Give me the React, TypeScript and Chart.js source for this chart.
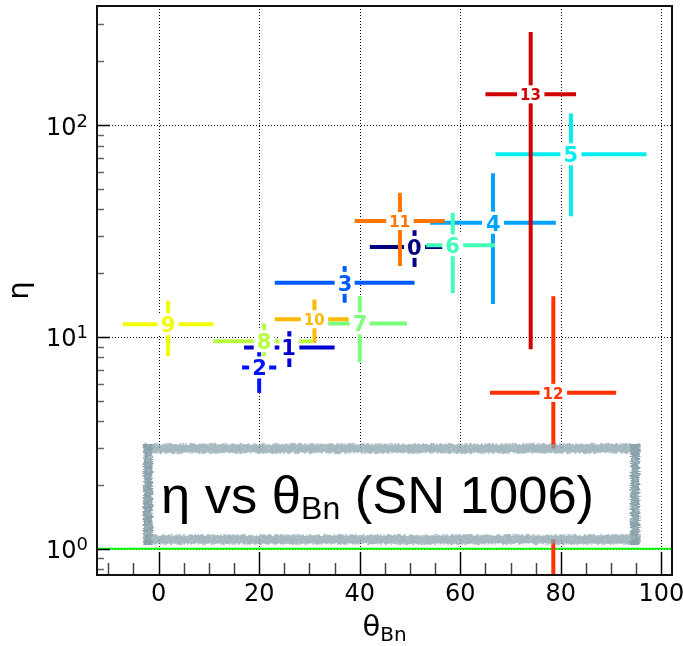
import React, { useEffect, useRef } from 'react';
import { Chart, registerables } from 'chart.js';

Chart.register(...registerables);

// Shock regions in SN 1006: obliquity angle θBn (deg) and η, with error extents
const REGION_IDS = ['0', '1', '2', '3', '4', '5', '6', '7', '8', '9', '10', '11', '12', '13'];
const THETA_BN = [50.9, 26.0, 20.0, 37.0, 66.5, 82.0, 58.5, 40.0, 21.0, 1.9, 31.0, 48.0, 78.5, 74.0];
const THETA_LO = [42.0, 17.0, 16.6, 23.1, 54.0, 67.0, 53.2, 33.1, 10.9, -7.1, 23.1, 39.0, 65.9, 65.0];
const THETA_HI = [60.0, 35.0, 23.4, 50.9, 79.0, 97.0, 66.9, 49.4, 30.5, 10.9, 37.8, 56.9, 91.0, 83.0];
const ETA = [26.6, 8.91, 7.17, 18.0, 34.6, 72.8, 27.1, 11.57, 9.54, 11.48, 12.1, 35.2, 5.44, 139.7];
const ETA_LO = [21.4, 7.21, 5.44, 14.5, 14.3, 37.1, 16.1, 7.59, 8.05, 8.1, 9.37, 21.6, -4.7, 8.75];
const ETA_HI = [31.9, 10.64, 8.56, 21.6, 59.2, 113.6, 38.5, 15.57, 11.57, 14.8, 15.0, 47.9, 15.57, 275];

// jet colormap sampled at i / 14
const REGION_COLORS = [
  'rgb(0,0,128)', 'rgb(0,0,210)', 'rgb(0,18,255)', 'rgb(0,91,255)', 'rgb(0,164,255)',
  'rgb(6,237,241)', 'rgb(65,255,182)', 'rgb(123,255,123)', 'rgb(182,255,65)', 'rgb(241,252,6)',
  'rgb(255,185,0)', 'rgb(255,117,0)', 'rgb(255,50,0)', 'rgb(210,0,0)',
];

const X_MIN = -12.25;
const X_MAX = 102.1;
const Y_MIN = 0.751;
const Y_MAX = 365;

const X_TICKS = [0, 20, 40, 60, 80, 100];
const X_MINOR_TICKS = [-10, -5, 5, 10, 15, 25, 30, 35, 45, 50, 55, 65, 70, 75, 85, 90, 95];
const Y_TICKS = [1, 10, 100];
const Y_TICK_BASE = '10';
const Y_TICK_EXPONENTS = ['0', '1', '2'];
const Y_MINOR_TICKS = [0.8, 0.9, 2, 3, 4, 5, 6, 7, 8, 9, 20, 30, 40, 50, 60, 70, 80, 90, 200, 300];

const ETA_REFERENCE = 1;

const TITLE_HEAD = 'η vs θ';
const TITLE_SUB = 'Bn';
const TITLE_TAIL = ' (SN 1006)';
const X_LABEL = 'θ';
const X_LABEL_SUB = 'Bn';
const Y_LABEL = 'η';

function grain(n: number): number {
  const s = Math.sin(n * 127.1 + 311.7) * 43758.5453;
  return s - Math.floor(s);
}

function drawRoughBox(ctx: CanvasRenderingContext2D, l: number, t: number, r: number, b: number, w: number) {
  ctx.save();
  ctx.fillStyle = '#ffffff';
  ctx.fillRect(l, t, r - l, b - t);
  const half = w / 2;
  ctx.fillStyle = '#8aa2ac';
  // top and bottom edges
  for (let x = l - half; x <= r + half; x += 1) {
    const k = Math.round(x * 3.1);
    const a1 = (grain(k) - 0.5) * 2.6;
    const a2 = (grain(k + 17.3) - 0.5) * 2.6;
    ctx.fillRect(x, t - half + a1, 1, w - a1 + a2);
    const b1 = (grain(k + 41.7) - 0.5) * 2.6;
    const b2 = (grain(k + 73.9) - 0.5) * 2.6;
    ctx.fillRect(x, b - half + b1, 1, w - b1 + b2);
  }
  // left and right edges
  for (let y = t - half; y <= b + half; y += 1) {
    const k = Math.round(y * 2.7) + 900;
    const a1 = (grain(k) - 0.5) * 2.6;
    const a2 = (grain(k + 11.1) - 0.5) * 2.6;
    ctx.fillRect(l - half + a1, y, w - a1 + a2, 1);
    const b1 = (grain(k + 29.5) - 0.5) * 2.6;
    const b2 = (grain(k + 53.3) - 0.5) * 2.6;
    ctx.fillRect(r - half + b1, y, w - b1 + b2, 1);
  }
  // light speckles in the stroke
  ctx.fillStyle = 'rgba(255,255,255,0.35)';
  for (let i = 0; i < 500; i++) {
    const side = i % 4;
    const u = grain(i * 1.37 + 5);
    const v = (grain(i * 2.11 + 9) - 0.5) * w;
    let px: number, py: number;
    if (side === 0) { px = l + u * (r - l); py = t + v; }
    else if (side === 1) { px = l + u * (r - l); py = b + v; }
    else if (side === 2) { px = l + v; py = t + u * (b - t); }
    else { px = r + v; py = t + u * (b - t); }
    ctx.fillRect(px, py, 1, 1);
  }
  ctx.restore();
}

const figurePlugin = {
  id: 'figureDecor',
  beforeDatasetsDraw(chart: any) {
    const { ctx, chartArea: a, scales } = chart;
    const xs = scales.x;
    const ys = scales.y;
    ctx.save();
    ctx.beginPath();
    ctx.rect(a.left, a.top, a.right - a.left, a.bottom - a.top);
    ctx.clip();

    // dotted grid at major ticks
    ctx.strokeStyle = '#000';
    ctx.lineWidth = 1;
    ctx.setLineDash([1, 2]);
    for (const v of X_TICKS) {
      const px = Math.round(xs.getPixelForValue(v)) + 0.5;
      ctx.beginPath();
      ctx.moveTo(px, a.top);
      ctx.lineTo(px, a.bottom);
      ctx.stroke();
    }
    for (const v of Y_TICKS) {
      const py = Math.round(ys.getPixelForValue(v)) + 0.5;
      ctx.beginPath();
      ctx.moveTo(a.left, py);
      ctx.lineTo(a.right, py);
      ctx.stroke();
    }
    ctx.setLineDash([]);

    // η = 1 reference
    const pyRef = ys.getPixelForValue(ETA_REFERENCE);
    ctx.strokeStyle = '#00ff00';
    ctx.lineWidth = 2;
    ctx.beginPath();
    ctx.moveTo(a.left, pyRef);
    ctx.lineTo(a.right, pyRef);
    ctx.stroke();

    // error crosses
    ctx.lineWidth = 4;
    ctx.lineCap = 'butt';
    for (let i = 0; i < REGION_IDS.length; i++) {
      ctx.strokeStyle = REGION_COLORS[i];
      const cx = xs.getPixelForValue(THETA_BN[i]);
      const cy = ys.getPixelForValue(ETA[i]);
      ctx.beginPath();
      ctx.moveTo(xs.getPixelForValue(THETA_LO[i]), cy);
      ctx.lineTo(xs.getPixelForValue(THETA_HI[i]), cy);
      ctx.stroke();
      const yLo = ETA_LO[i] > 0 ? ys.getPixelForValue(ETA_LO[i]) : a.bottom + 10;
      ctx.beginPath();
      ctx.moveTo(cx, yLo);
      ctx.lineTo(cx, ys.getPixelForValue(ETA_HI[i]));
      ctx.stroke();
    }

    // region numbers on white boxes
    for (let i = 0; i < REGION_IDS.length; i++) {
      const txt = REGION_IDS[i];
      const size = txt.length > 1 ? 15 : 21;
      ctx.font = `bold ${size}px "DejaVu Sans"`;
      const m = ctx.measureText(txt);
      const cx = xs.getPixelForValue(THETA_BN[i]);
      const cy = ys.getPixelForValue(ETA[i]);
      const inkW = m.actualBoundingBoxLeft + m.actualBoundingBoxRight;
      const inkH = m.actualBoundingBoxAscent + m.actualBoundingBoxDescent;
      const padX = 4;
      const padY = 3;
      ctx.fillStyle = '#ffffff';
      ctx.fillRect(cx - inkW / 2 - padX, cy - inkH / 2 - padY, inkW + 2 * padX, inkH + 2 * padY);
      ctx.fillStyle = REGION_COLORS[i];
      ctx.textAlign = 'left';
      ctx.textBaseline = 'alphabetic';
      ctx.fillText(txt, cx - inkW / 2 + m.actualBoundingBoxLeft, cy + inkH / 2 - m.actualBoundingBoxDescent);
    }
    ctx.restore();

    // title panel
    drawRoughBox(ctx, 148, 448.5, 635, 539.5, 9);
    ctx.save();
    ctx.fillStyle = '#000';
    ctx.textAlign = 'left';
    ctx.textBaseline = 'alphabetic';
    ctx.font = '52.5px "Liberation Sans"';
    let tx = 161;
    ctx.fillText(TITLE_HEAD, tx, 513);
    tx += ctx.measureText(TITLE_HEAD).width;
    ctx.font = '32px "Liberation Sans"';
    ctx.fillText(TITLE_SUB, tx, 519);
    tx += ctx.measureText(TITLE_SUB).width;
    ctx.font = '52.5px "Liberation Sans"';
    ctx.fillText(TITLE_TAIL, tx, 513);
    ctx.restore();
  },
  afterDraw(chart: any) {
    const { ctx, chartArea: a, scales } = chart;
    const xs = scales.x;
    const ys = scales.y;
    ctx.save();
    // inward tick marks
    ctx.lineWidth = 1.5;
    ctx.strokeStyle = '#000';
    for (const v of X_TICKS) {
      const px = Math.round(xs.getPixelForValue(v)) + 0.5;
      ctx.beginPath();
      ctx.moveTo(px, a.bottom);
      ctx.lineTo(px, a.bottom - 23);
      ctx.stroke();
    }
    ctx.strokeStyle = '#444';
    for (const v of X_MINOR_TICKS) {
      const px = Math.round(xs.getPixelForValue(v)) + 0.5;
      ctx.beginPath();
      ctx.moveTo(px, a.bottom);
      ctx.lineTo(px, a.bottom - 12);
      ctx.stroke();
    }
    ctx.strokeStyle = '#000';
    for (const v of Y_TICKS) {
      const py = Math.round(ys.getPixelForValue(v)) + 0.5;
      ctx.beginPath();
      ctx.moveTo(a.left, py);
      ctx.lineTo(a.left + 13, py);
      ctx.stroke();
    }
    ctx.strokeStyle = '#666';
    for (const v of Y_MINOR_TICKS) {
      const py = Math.round(ys.getPixelForValue(v)) + 0.5;
      if (py < a.top || py > a.bottom) continue;
      ctx.beginPath();
      ctx.moveTo(a.left, py);
      ctx.lineTo(a.left + 7, py);
      ctx.stroke();
    }
    // frame
    ctx.strokeStyle = '#111';
    ctx.lineWidth = 2;
    ctx.strokeRect(a.left, a.top, a.right - a.left, a.bottom - a.top);

    // logarithmic tick labels as 10 with a raised exponent
    ctx.fillStyle = '#000';
    ctx.textBaseline = 'alphabetic';
    ctx.textAlign = 'left';
    for (let i = 0; i < Y_TICKS.length; i++) {
      const py = ys.getPixelForValue(Y_TICKS[i]);
      ctx.font = '18px "DejaVu Sans"';
      const wExp = ctx.measureText(Y_TICK_EXPONENTS[i]).width;
      ctx.font = '24px "DejaVu Sans"';
      const wBase = ctx.measureText(Y_TICK_BASE).width;
      const x0 = a.left - 9 - wExp - wBase;
      ctx.fillText(Y_TICK_BASE, x0, py + 9.5);
      ctx.font = '18px "DejaVu Sans"';
      ctx.fillText(Y_TICK_EXPONENTS[i], x0 + wBase, py + 1.5);
    }

    // axis titles
    ctx.font = '29px "DejaVu Sans"';
    const wMain = ctx.measureText(X_LABEL).width;
    ctx.font = '20px "DejaVu Sans"';
    const wSub = ctx.measureText(X_LABEL_SUB).width;
    const x0 = (a.left + a.right) / 2 - (wMain + wSub) / 2;
    ctx.font = '29px "DejaVu Sans"';
    ctx.fillText(X_LABEL, x0, 636);
    ctx.font = '20px "DejaVu Sans"';
    ctx.fillText(X_LABEL_SUB, x0 + wMain, 640.5);

    ctx.translate(27.5, (a.top + a.bottom) / 2);
    ctx.rotate(-Math.PI / 2);
    ctx.textAlign = 'center';
    ctx.font = '29px "DejaVu Sans"';
    ctx.fillText(Y_LABEL, 0, 0);
    ctx.restore();
  },
};

export default function App() {
  const canvasRef = useRef<HTMLCanvasElement | null>(null);

  useEffect(() => {
    const canvas = canvasRef.current;
    if (!canvas) return;
    const chart = new Chart(canvas, {
      type: 'scatter',
      data: {
        datasets: [
          {
            label: 'η',
            data: THETA_BN.map((x, i) => ({ x, y: ETA[i] })),
            pointRadius: 0,
            pointHoverRadius: 0,
            showLine: false,
          },
        ],
      },
      options: {
        responsive: false,
        animation: false,
        devicePixelRatio: 1,
        events: [],
        layout: { padding: { top: 6, right: 11, bottom: 0, left: 0 } },
        plugins: { legend: { display: false }, tooltip: { enabled: false } },
        scales: {
          x: {
            type: 'linear',
            min: X_MIN,
            max: X_MAX,
            bounds: 'data',
            grid: { display: false, drawTicks: false },
            border: { display: false },
            afterBuildTicks: (s: any) => {
              s.ticks = X_TICKS.map((value) => ({ value }));
            },
            afterFit: (s: any) => {
              s.height = 71;
              s.paddingLeft = 0;
              s.paddingRight = 0;
            },
            ticks: {
              autoSkip: false,
              maxRotation: 0,
              padding: 5,
              color: '#000',
              font: { family: 'DejaVu Sans', size: 24 },
              callback: (v: any) => String(v),
            },
          },
          y: {
            type: 'logarithmic',
            min: Y_MIN,
            max: Y_MAX,
            bounds: 'data',
            grid: { display: false, drawTicks: false },
            border: { display: false },
            afterBuildTicks: (s: any) => {
              s.ticks = Y_TICKS.map((value) => ({ value }));
            },
            afterFit: (s: any) => {
              s.width = 97;
              s.paddingTop = 0;
              s.paddingBottom = 0;
            },
            ticks: { display: false },
          },
        },
      },
      plugins: [figurePlugin],
    });
    return () => chart.destroy();
  }, []);

  return (
    <div style={{ position: 'absolute', left: 0, top: 0, width: 683, height: 646, background: '#fff' }}>
      <canvas ref={canvasRef} width={683} height={646} style={{ display: 'block' }} />
    </div>
  );
}
